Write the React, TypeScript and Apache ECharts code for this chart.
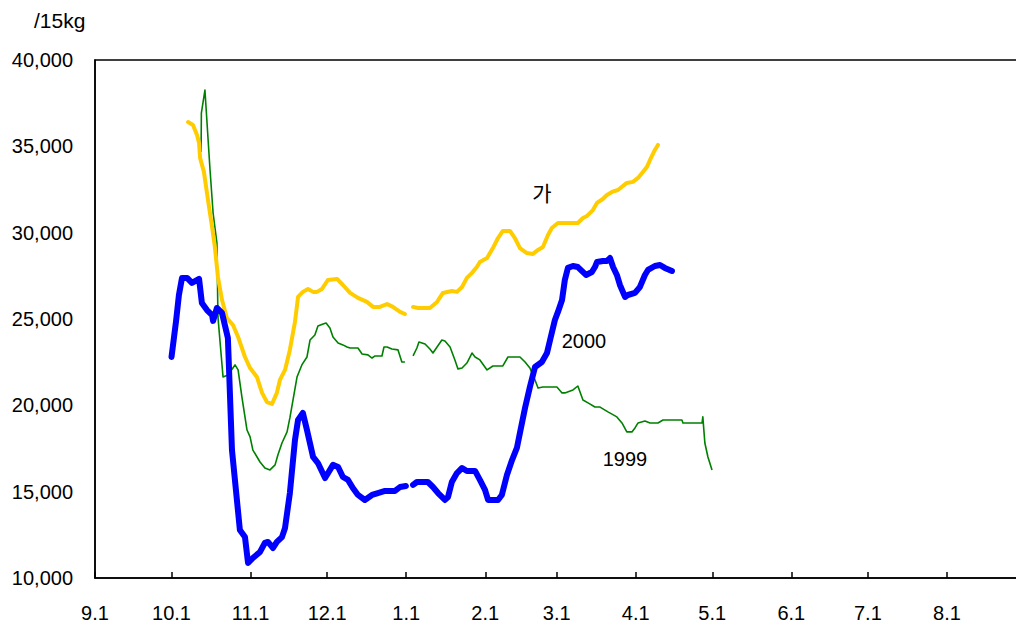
import React, { useEffect, useRef } from "react";
import * as echarts from "echarts";

// x values: days since 9.1 (season start); y values: price per 15kg
const monthLabels = ["9.1", "10.1", "11.1", "12.1", "1.1", "2.1", "3.1", "4.1", "5.1", "6.1", "7.1", "8.1"];
const monthStarts = [0, 30, 61, 91, 122, 153, 181, 212, 242, 273, 303, 334];

// 2000 (blue)
const y2000Days = [30, 31.8, 32.9, 34.1, 36.1, 38, 40.8, 41.9, 43.9, 45.9, 46.3, 47.8, 49.8, 52.1, 53.7, 56.8, 58.8, 60, 61.9, 64.7, 66.6, 67.8, 69.8, 71.3, 73.3, 74.5, 76.4, 78.4, 79.6, 81.5, 83.1, 85.5, 87.4, 90.2, 93.3, 95.3, 97.2, 99.2, 101.1, 103.1, 105.8, 108.6, 110.9, 113.7, 117.6, 119.6, 121.9, 123, 124.7, 126.2, 130.5, 132.5, 134.5, 137.2, 138.4, 139.9, 141.9, 143.9, 145.8, 149, 150.9, 152.9, 154.1, 158, 159.5, 161.5, 163.5, 165.4, 166.6, 168.6, 170.5, 172.5, 175.2, 177.2, 178.4, 180.3, 181.5, 183.1, 184.2, 185.4, 187.4, 189.3, 192.5, 194.8, 196, 196.8, 199.1, 200.7, 201.9, 203.1, 204.6, 205.8, 207.8, 208.9, 211.7, 213.6, 215.6, 216.8, 219.5, 221.5, 223.4, 226.2];
const y2000Values = [22800, 24900, 26390, 27380, 27380, 27090, 27320, 25930, 25520, 25230, 24890, 25640, 25350, 23900, 17410, 12780, 12370, 10870, 11160, 11510, 12030, 12090, 11740, 12090, 12370, 12900, 14920, 17990, 19150, 19560, 18570, 17010, 16660, 15790, 16550, 16430, 15850, 15680, 15210, 14810, 14520, 14810, 14920, 15040, 15040, 15270, 15330, null, 15390, 15560, 15560, 15270, 14920, 14520, 14690, 15560, 16080, 16370, 16200, 16200, 15680, 15100, 14520, 14520, 14810, 15970, 16830, 17530, 18400, 19850, 21060, 22220, 22510, 23030, 23780, 24940, 25410, 26100, 27260, 27960, 28070, 28010, 27550, 27720, 28010, 28300, 28360, 28360, 28530, 28010, 27550, 26970, 26280, 26390, 26510, 26850, 27550, 27840, 28070, 28130, 27960, 27780];

// 가 (yellow)
const gaDays = [36.5, 38.4, 40, 40.8, 41.2, 42.7, 44.3, 45.9, 47, 48.2, 49.8, 51.7, 54.1, 56.1, 58.8, 60.8, 63.5, 65.5, 67.4, 69.4, 71.3, 72.5, 74.5, 76.4, 78.4, 79.6, 81.5, 83.5, 85.5, 87, 89, 91.3, 94.9, 97.2, 100, 103.1, 106.6, 109, 111.7, 114.5, 116.8, 119.6, 121.5, 123, 124.7, 126.6, 131.3, 134.1, 136.4, 139.9, 141.9, 143.9, 145.8, 147.8, 149.7, 150.9, 153.7, 156, 158, 159.9, 162.7, 164.6, 166.6, 169.3, 171.7, 173.7, 175.6, 177.6, 179.1, 181.5, 185, 189.3, 191.3, 192.9, 195.2, 196.8, 199.1, 200.7, 202.7, 205, 208.5, 210.9, 212.9, 214.8, 216.4, 217.6, 219.5, 220.7];
const gaValues = [36410, 36240, 35660, 35200, 34330, 33520, 31890, 30330, 29170, 27430, 26100, 25060, 24650, 23960, 22800, 22160, 21640, 20720, 20190, 20080, 20720, 21470, 22050, 23210, 24830, 26280, 26570, 26740, 26570, 26570, 26740, 27260, 27320, 26970, 26510, 26220, 25990, 25700, 25700, 25870, 25700, 25410, 25290, null, 25700, 25640, 25640, 25990, 26510, 26620, 26570, 26850, 27380, 27670, 28010, 28300, 28530, 29110, 29690, 30100, 30100, 29690, 29110, 28820, 28770, 29000, 29170, 29870, 30270, 30560, 30560, 30560, 30850, 30970, 31310, 31720, 31950, 32180, 32360, 32470, 32880, 32940, 33170, 33520, 33810, 34210, 34790, 35080];

// 1999 (green)
const y1999Days = [41.6, 41.7, 43.1, 45.1, 46.3, 47.8, 48.2, 50.2, 52.1, 54.9, 56.1, 57.6, 59.6, 60.8, 61.9, 64.7, 66.6, 68.6, 70.6, 71.7, 73.3, 75.3, 76.4, 79.2, 81.1, 83.1, 84.3, 86.2, 87.4, 89.4, 90.6, 92.1, 93.3, 95.3, 97.2, 98.8, 100, 103.1, 104.7, 107, 108.6, 109.8, 112.5, 113.3, 114.5, 116.4, 118.8, 120.3, 121.5, 123, 124.7, 126.2, 127, 129.4, 131.3, 132.5, 134.1, 136, 137.2, 139.2, 141.1, 142.3, 143.9, 145.8, 147.8, 149, 150.9, 153.7, 156, 159.9, 161.9, 166.6, 168.6, 170.5, 172.5, 173.7, 175.6, 181.1, 183.1, 184.2, 187.4, 189.3, 191.3, 193.3, 196, 198, 201.1, 204.6, 206.6, 208.5, 210.5, 211.7, 212.9, 215.6, 217.6, 220.7, 222.7, 230.1, 230.5, 238, 238.3, 239.1, 240.3, 241.9];
const y1999Values = [34670, 36930, 38260, 33630, 31140, 29400, 25120, 21640, 21760, 22340, 22050, 20480, 18570, 18170, 17410, 16720, 16370, 16260, 16550, 17120, 17820, 18460, 19270, 21640, 22340, 22800, 23780, 24070, 24600, 24710, 24770, 24480, 23960, 23610, 23500, 23380, 23320, 23320, 22970, 22920, 22740, 22860, 22860, 23380, 23380, 23260, 23210, 22510, 22510, null, 22860, 23320, 23670, 23550, 23260, 23030, 23380, 23780, 23730, 23380, 22630, 22110, 22160, 22450, 23030, 22800, 22630, 22050, 22280, 22280, 22800, 22800, 22510, 22160, 21470, 21000, 21060, 21060, 20720, 20720, 20890, 21120, 20310, 20140, 19900, 19900, 19620, 19330, 18980, 18460, 18460, 18690, 18980, 19090, 18980, 18980, 19150, 19150, 18980, 18980, 19330, 17820, 17010, 16260];

const seriesNames = ["1999", "가", "2000"];

const zip = (days: number[], vals: (number | null)[]) =>
  days.map((d, i) => [d, vals[i] === null ? "-" : vals[i]]);

const FONT = "'Liberation Sans', Arial, sans-serif";

export default function App() {
  const ref = useRef<HTMLDivElement>(null);
  useEffect(() => {
    if (!ref.current) return;
    const chart = echarts.init(ref.current, undefined, { renderer: "svg" });
    chart.setOption({
      animation: false,
      backgroundColor: "#ffffff",
      grid: {
        left: 95,
        top: 60,
        width: 931,
        height: 518,
        containLabel: false,
        outerBoundsMode: "none",
        show: true,
        borderColor: "#000",
        borderWidth: 1.5,
        backgroundColor: "transparent",
      },
      xAxis: {
        type: "value",
        min: 0,
        max: 365,
        splitLine: { show: false },
        axisLine: { show: true, onZero: false, lineStyle: { color: "#000", width: 1.5 } },
        axisTick: {
          show: true,
          inside: true,
          length: 6,
          customValues: monthStarts,
          lineStyle: { color: "#000", width: 1.5 },
        },
        axisLabel: {
          customValues: monthStarts,
          formatter: (v: number) => {
            const i = monthStarts.indexOf(Math.round(v));
            return i >= 0 ? monthLabels[i] : "";
          },
          color: "#000",
          fontSize: 20,
          fontFamily: FONT,
          margin: 25,
        },
      },
      yAxis: {
        type: "value",
        min: 10000,
        max: 40000,
        interval: 5000,
        splitLine: { show: false },
        axisLine: { show: true, lineStyle: { color: "#000", width: 1.5 } },
        axisTick: { show: false },
        axisLabel: {
          color: "#000",
          fontSize: 20,
          fontFamily: FONT,
          margin: 22,
          formatter: (v: number) => v.toLocaleString("en-US"),
        },
      },
      series: [
        {
          name: seriesNames[0],
          type: "line",
          data: zip(y1999Days, y1999Values),
          showSymbol: false,
          connectNulls: false,
          lineStyle: { color: "#008000", width: 1.6, join: "round" },
          itemStyle: { color: "#008000" },
          z: 2,
        },
        {
          name: seriesNames[1],
          type: "line",
          data: zip(gaDays, gaValues),
          showSymbol: false,
          connectNulls: false,
          lineStyle: { color: "#FFCC00", width: 4, cap: "round", join: "round" },
          itemStyle: { color: "#FFCC00" },
          z: 3,
        },
        {
          name: seriesNames[2],
          type: "line",
          data: zip(y2000Days, y2000Values),
          showSymbol: false,
          connectNulls: false,
          lineStyle: { color: "#0000FF", width: 6, cap: "round", join: "round" },
          itemStyle: { color: "#0000FF" },
          z: 4,
        },
      ],
      graphic: [
        { type: "text", left: 34, top: 10, style: { text: "/15kg", fontSize: 21, fontFamily: FONT, fill: "#000" } },
        { type: "text", x: 542, y: 192, style: { text: "가", fontSize: 21, fontFamily: "'Noto Sans CJK KR', sans-serif", fill: "#000", align: "center", verticalAlign: "middle" } },
        { type: "text", x: 584, y: 341, style: { text: "2000", fontSize: 20, fontFamily: FONT, fill: "#000", align: "center", verticalAlign: "middle" } },
        { type: "text", x: 625, y: 459, style: { text: "1999", fontSize: 20, fontFamily: FONT, fill: "#000", align: "center", verticalAlign: "middle" } },
      ],
    });
    return () => chart.dispose();
  }, []);
  return (
    <div
      ref={ref}
      style={{ position: "fixed", left: 0, top: 0, width: 1016, height: 625 }}
    />
  );
}
